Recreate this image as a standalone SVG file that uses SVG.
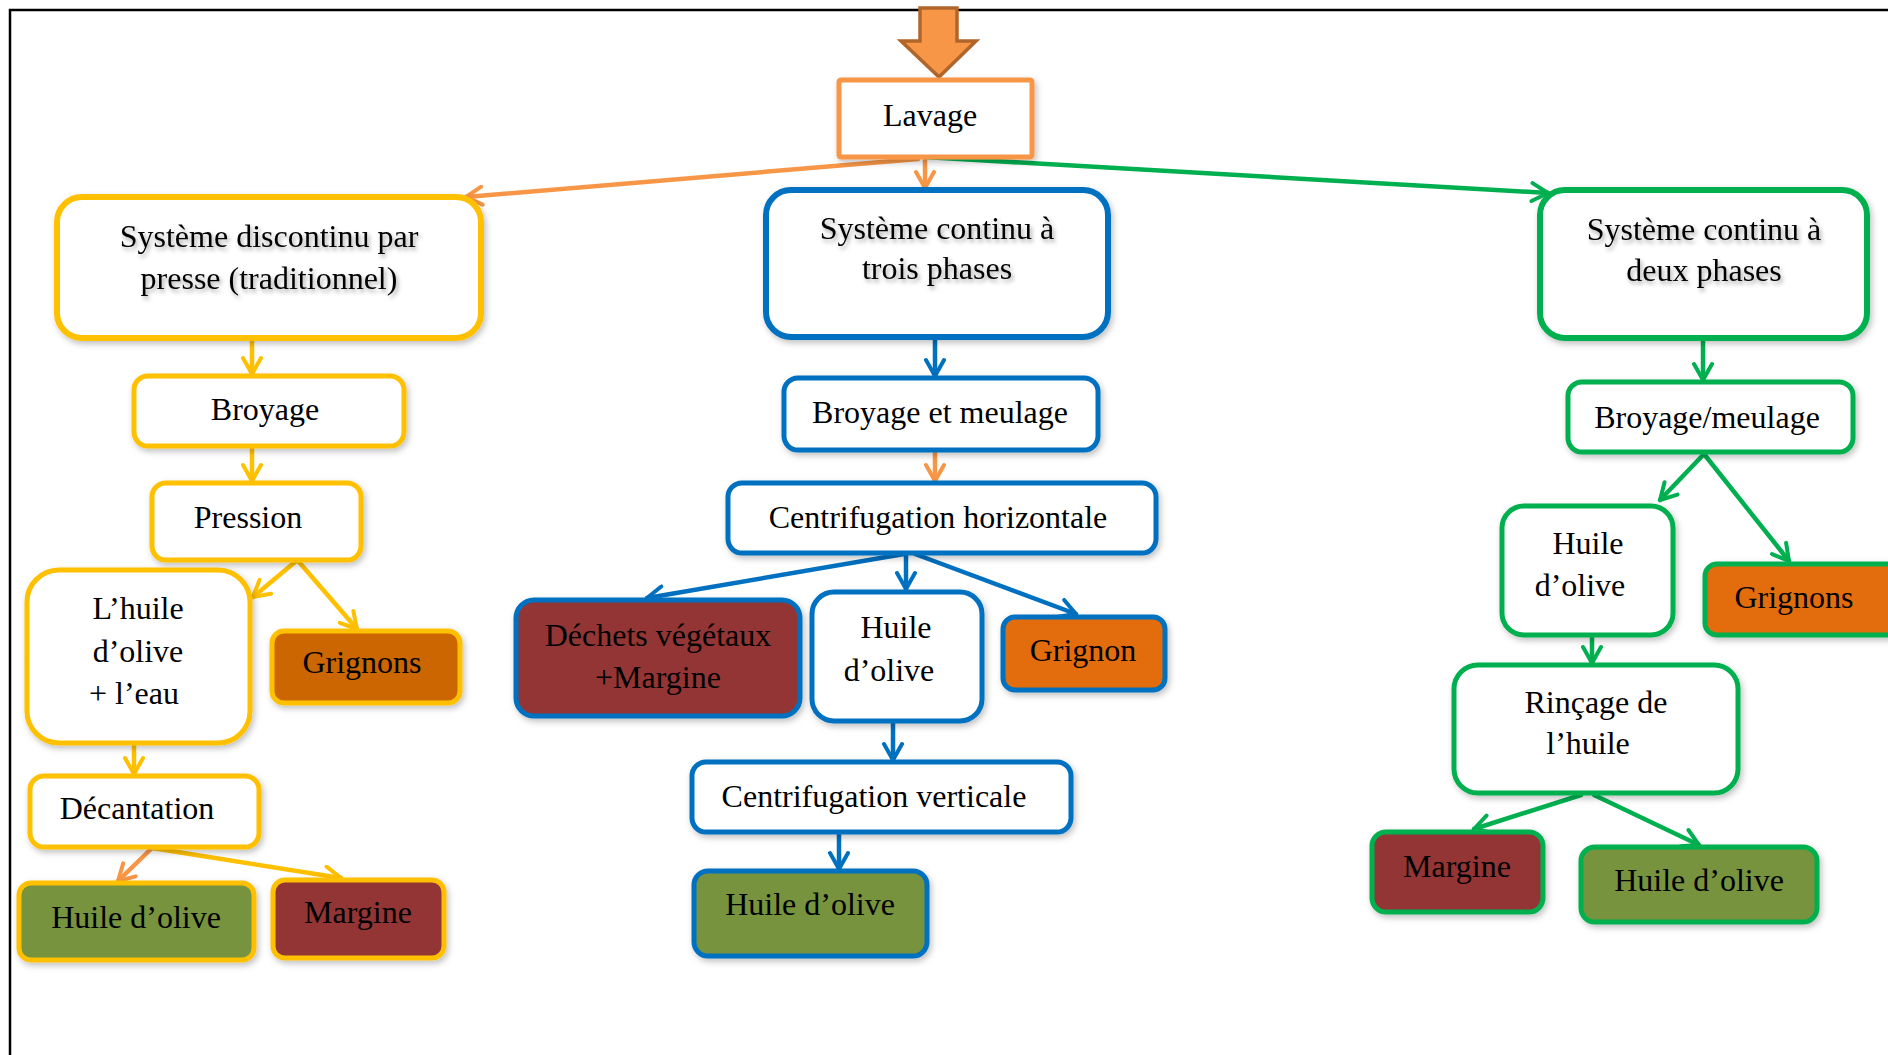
<svg xmlns="http://www.w3.org/2000/svg" width="1888" height="1055" viewBox="0 0 1888 1055">
<defs>
<style>
text{font-family:"Liberation Serif","Times New Roman",serif;font-size:32px;fill:#000;text-anchor:middle}
.box{fill:#fff;stroke-width:5}
.y{stroke:#FFC000}
.b{stroke:#0070C0}
.g{stroke:#00B050}
.o{stroke:#F79646}
.big{stroke-width:6}
.mar{fill:#943634}
.oli{fill:#77933C}
.gri1{fill:#CC6600}
.gri2{fill:#E36C09}
.c{fill:none;stroke-width:4.5;stroke-linecap:round}
.cy{stroke:#FFC000;marker-end:url(#ay)}
.cb{stroke:#0070C0;marker-end:url(#ab)}
.cg{stroke:#00B050;marker-end:url(#ag)}
.co{stroke:#F79646;marker-end:url(#ao)}
.sh{filter:url(#ds)}
.ts{filter:url(#tsh)}
</style>
<filter id="ds" x="-10%" y="-10%" width="130%" height="140%">
<feDropShadow dx="2" dy="3" stdDeviation="3" flood-color="#000" flood-opacity="0.25"/>
</filter>
<filter id="tsh" x="-10%" y="-20%" width="130%" height="160%">
<feDropShadow dx="2" dy="3" stdDeviation="2" flood-color="#000" flood-opacity="0.35"/>
</filter>
<marker id="ay" viewBox="0 0 22 22" refX="19" refY="11" markerWidth="22" markerHeight="22" markerUnits="userSpaceOnUse" orient="auto"><path d="M3,2 L19,11 L3,20" fill="none" stroke="#FFC000" stroke-width="4" stroke-linecap="round" stroke-linejoin="round"/></marker>
<marker id="ab" viewBox="0 0 22 22" refX="19" refY="11" markerWidth="22" markerHeight="22" markerUnits="userSpaceOnUse" orient="auto"><path d="M3,2 L19,11 L3,20" fill="none" stroke="#0070C0" stroke-width="4" stroke-linecap="round" stroke-linejoin="round"/></marker>
<marker id="ag" viewBox="0 0 22 22" refX="19" refY="11" markerWidth="22" markerHeight="22" markerUnits="userSpaceOnUse" orient="auto"><path d="M3,2 L19,11 L3,20" fill="none" stroke="#00B050" stroke-width="4" stroke-linecap="round" stroke-linejoin="round"/></marker>
<marker id="ao" viewBox="0 0 22 22" refX="19" refY="11" markerWidth="22" markerHeight="22" markerUnits="userSpaceOnUse" orient="auto"><path d="M3,2 L19,11 L3,20" fill="none" stroke="#F79646" stroke-width="4" stroke-linecap="round" stroke-linejoin="round"/></marker>
</defs>
<rect x="0" y="0" width="1888" height="1055" fill="#fff"/>
<path d="M10,1055 V10 H1888" fill="none" stroke="#000" stroke-width="2.5"/>

<g id="top-arrow">
<polygon points="920,8 957,8 957,41 976,41 939,77 901,41 920,41" fill="#F79646" stroke="#B0652A" stroke-width="3.5" stroke-linejoin="miter"/>
</g>

<g id="connectors">
<line class="c co" x1="918" y1="159" x2="466" y2="197"/>
<line class="c co" x1="925" y1="158" x2="925" y2="188"/>
<line class="c cg" x1="925" y1="157" x2="1548" y2="193"/>

<line class="c cy" x1="252" y1="340" x2="252" y2="374"/>
<line class="c cy" x1="252" y1="448" x2="252" y2="481"/>
<line class="c cy" x1="295" y1="562" x2="253" y2="597"/>
<line class="c cy" x1="299" y1="562" x2="357" y2="629"/>
<line class="c cy" x1="134" y1="745" x2="134" y2="774"/>
<line class="c cy" x1="152" y1="848" x2="341" y2="878"/>
<line class="c co" x1="152" y1="848" x2="118" y2="881"/>

<line class="c cb" x1="935" y1="340" x2="935" y2="376"/>
<line class="c co" x1="935" y1="452" x2="935" y2="481"/>
<line class="c cb" x1="904" y1="554" x2="647" y2="598"/>
<line class="c cb" x1="906" y1="554" x2="906" y2="589"/>
<line class="c cb" x1="915" y1="554" x2="1076" y2="614"/>
<line class="c cb" x1="893" y1="723" x2="893" y2="760"/>
<line class="c cb" x1="839" y1="834" x2="839" y2="869"/>

<line class="c cg" x1="1703" y1="340" x2="1703" y2="380"/>
<line class="c cg" x1="1704" y1="454" x2="1660" y2="500"/>
<line class="c cg" x1="1704" y1="454" x2="1789" y2="561"/>
<line class="c cg" x1="1592" y1="637" x2="1592" y2="663"/>
<line class="c cg" x1="1581" y1="795" x2="1474" y2="829"/>
<line class="c cg" x1="1594" y1="795" x2="1699" y2="845"/>
</g>

<g id="lavage">
<rect class="box o sh" x="839" y="80" width="193" height="77" rx="2"/>
<text x="930" y="126">Lavage</text>
</g>

<g id="sys-discontinu">
<rect class="box y big sh" x="57" y="197" width="424" height="141" rx="25"/>
<text class="ts" x="269" y="247">Système discontinu par</text>
<text class="ts" x="269" y="289">presse (traditionnel)</text>
</g>
<g id="sys-trois">
<rect class="box b big sh" x="766" y="190" width="342" height="147" rx="25"/>
<text class="ts" x="937" y="239">Système continu à</text>
<text class="ts" x="937" y="279">trois phases</text>
</g>
<g id="sys-deux">
<rect class="box g big sh" x="1540" y="190" width="327" height="148" rx="25"/>
<text class="ts" x="1704" y="240">Système continu à</text>
<text class="ts" x="1704" y="281">deux phases</text>
</g>

<g id="broyage">
<rect class="box y sh" x="134" y="376" width="270" height="70" rx="14"/>
<text x="265" y="420">Broyage</text>
</g>
<g id="pression">
<rect class="box y sh" x="152" y="483" width="209" height="77" rx="14"/>
<text x="248" y="528">Pression</text>
</g>
<g id="huile-eau">
<rect class="box y sh" x="27" y="570" width="223" height="173" rx="32"/>
<text x="138" y="619">L’huile</text>
<text x="138" y="662">d’olive</text>
<text x="134" y="704">+ l’eau</text>
</g>
<g id="grignons-1">
<rect class="box y gri1 sh" x="272" y="631" width="188" height="72" rx="12"/>
<text x="362" y="673">Grignons</text>
</g>
<g id="decantation">
<rect class="box y sh" x="30" y="776" width="229" height="71" rx="14"/>
<text x="137" y="819">Décantation</text>
</g>
<g id="huile-1">
<rect class="box y oli sh" x="19" y="883" width="235" height="77" rx="12"/>
<text x="136" y="928">Huile d’olive</text>
</g>
<g id="margine-1">
<rect class="box y mar sh" x="273" y="880" width="171" height="78" rx="12"/>
<text x="358" y="923">Margine</text>
</g>

<g id="broyage-meulage">
<rect class="box b sh" x="784" y="378" width="314" height="72" rx="14"/>
<text x="940" y="423">Broyage et meulage</text>
</g>
<g id="centrif-h">
<rect class="box b sh" x="728" y="483" width="428" height="70" rx="14"/>
<text x="938" y="528">Centrifugation horizontale</text>
</g>
<g id="dechets">
<rect class="box b mar sh" x="516" y="600" width="284" height="116" rx="18"/>
<text x="658" y="646">Déchets végétaux</text>
<text x="658" y="688">+Margine</text>
</g>
<g id="huile-2a">
<rect class="box b sh" x="812" y="592" width="170" height="129" rx="22"/>
<text x="896" y="638">Huile</text>
<text x="889" y="681">d’olive</text>
</g>
<g id="grignon-2">
<rect class="box b gri2 sh" x="1003" y="617" width="162" height="73" rx="12"/>
<text x="1083" y="661">Grignon</text>
</g>
<g id="centrif-v">
<rect class="box b sh" x="692" y="762" width="379" height="70" rx="14"/>
<text x="874" y="807">Centrifugation verticale</text>
</g>
<g id="huile-2b">
<rect class="box b oli sh" x="694" y="871" width="233" height="85" rx="14"/>
<text x="810" y="915">Huile d’olive</text>
</g>

<g id="broyage-meulage-3">
<rect class="box g sh" x="1568" y="382" width="285" height="70" rx="14"/>
<text x="1707" y="428">Broyage/meulage</text>
</g>
<g id="huile-3a">
<rect class="box g sh" x="1502" y="506" width="171" height="129" rx="22"/>
<text x="1588" y="554">Huile</text>
<text x="1580" y="596">d’olive</text>
</g>
<g id="grignons-3">
<rect class="box g gri2 sh" x="1705" y="564" width="200" height="71" rx="12"/>
<text x="1794" y="608">Grignons</text>
</g>
<g id="rincage">
<rect class="box g sh" x="1454" y="665" width="284" height="128" rx="24"/>
<text x="1596" y="713">Rinçage de</text>
<text x="1588" y="754">l’huile</text>
</g>
<g id="margine-3">
<rect class="box g mar sh" x="1372" y="832" width="171" height="80" rx="14"/>
<text x="1457" y="877">Margine</text>
</g>
<g id="huile-3b">
<rect class="box g oli sh" x="1581" y="847" width="236" height="75" rx="14"/>
<text x="1699" y="891">Huile d’olive</text>
</g>
</svg>
